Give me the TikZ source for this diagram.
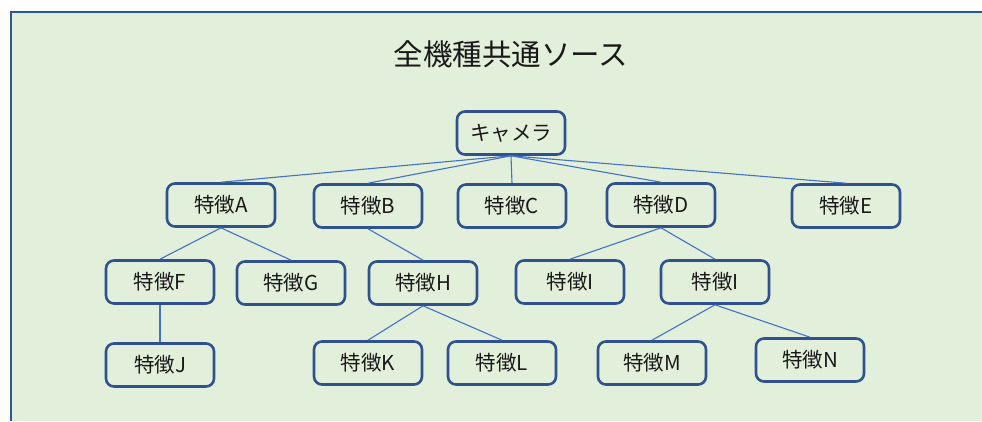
\documentclass[tikz,border=0pt]{standalone}
\usepackage{fontspec}
\setmainfont{Noto Sans CJK JP}
\definecolor{panelfill}{HTML}{E2EFDA}
\definecolor{panelline}{HTML}{2F5597}
\definecolor{boxline}{HTML}{2F528F}
\definecolor{linkline}{HTML}{4472C4}
\begin{document}
\begin{tikzpicture}[x=1pt,y=-1pt,
  featbox/.style={draw=boxline, line width=2.6pt, rounded corners=8pt,
    minimum width=108pt, minimum height=43pt, inner sep=0pt,
    font=\fontsize{20.5}{23}\selectfont, text=black!90},
  link/.style={draw=linkline, line width=1.1pt}]
\useasboundingbox (0,0) rectangle (982,421);
\fill[white] (0,0) rectangle (982,421);
\fill[panelfill] (11,12) rectangle (982,421);
\draw[panelline, line width=2.6pt] (11,421) -- (11,12) -- (982,12);
\node[font=\fontsize{29.5}{33}\selectfont, text=black!90] (title) at (511,54) {全機種共通ソース};
\node[featbox] (cam) at (511,133) {キャメラ};
\node[featbox] (A) at (221,205) {特徴A};
\node[featbox] (B) at (368,206) {特徴B};
\node[featbox] (C) at (512,206) {特徴C};
\node[featbox] (D) at (661,205) {特徴D};
\node[featbox] (E) at (846,206) {特徴E};
\node[featbox] (F) at (160,282) {特徴F};
\node[featbox] (G) at (291,283) {特徴G};
\node[featbox] (H) at (423,283) {特徴H};
\node[featbox] (I1) at (570,282) {特徴I};
\node[featbox] (I2) at (715,282) {特徴I};
\node[featbox] (J) at (160,365) {特徴J};
\node[featbox] (K) at (368,363) {特徴K};
\node[featbox] (L) at (502,363) {特徴L};
\node[featbox] (M) at (652,363) {特徴M};
\node[featbox] (N) at (810,360) {特徴N};
\foreach \c in {A,B,C,D,E} \draw[link] (cam.south) -- (\c.north);
\foreach \p/\c in {A/F, A/G, B/H, D/I1, D/I2, F/J, H/K, H/L, I2/M, I2/N}
  \draw[link] (\p.south) -- (\c.north);
\end{tikzpicture}
\end{document}
